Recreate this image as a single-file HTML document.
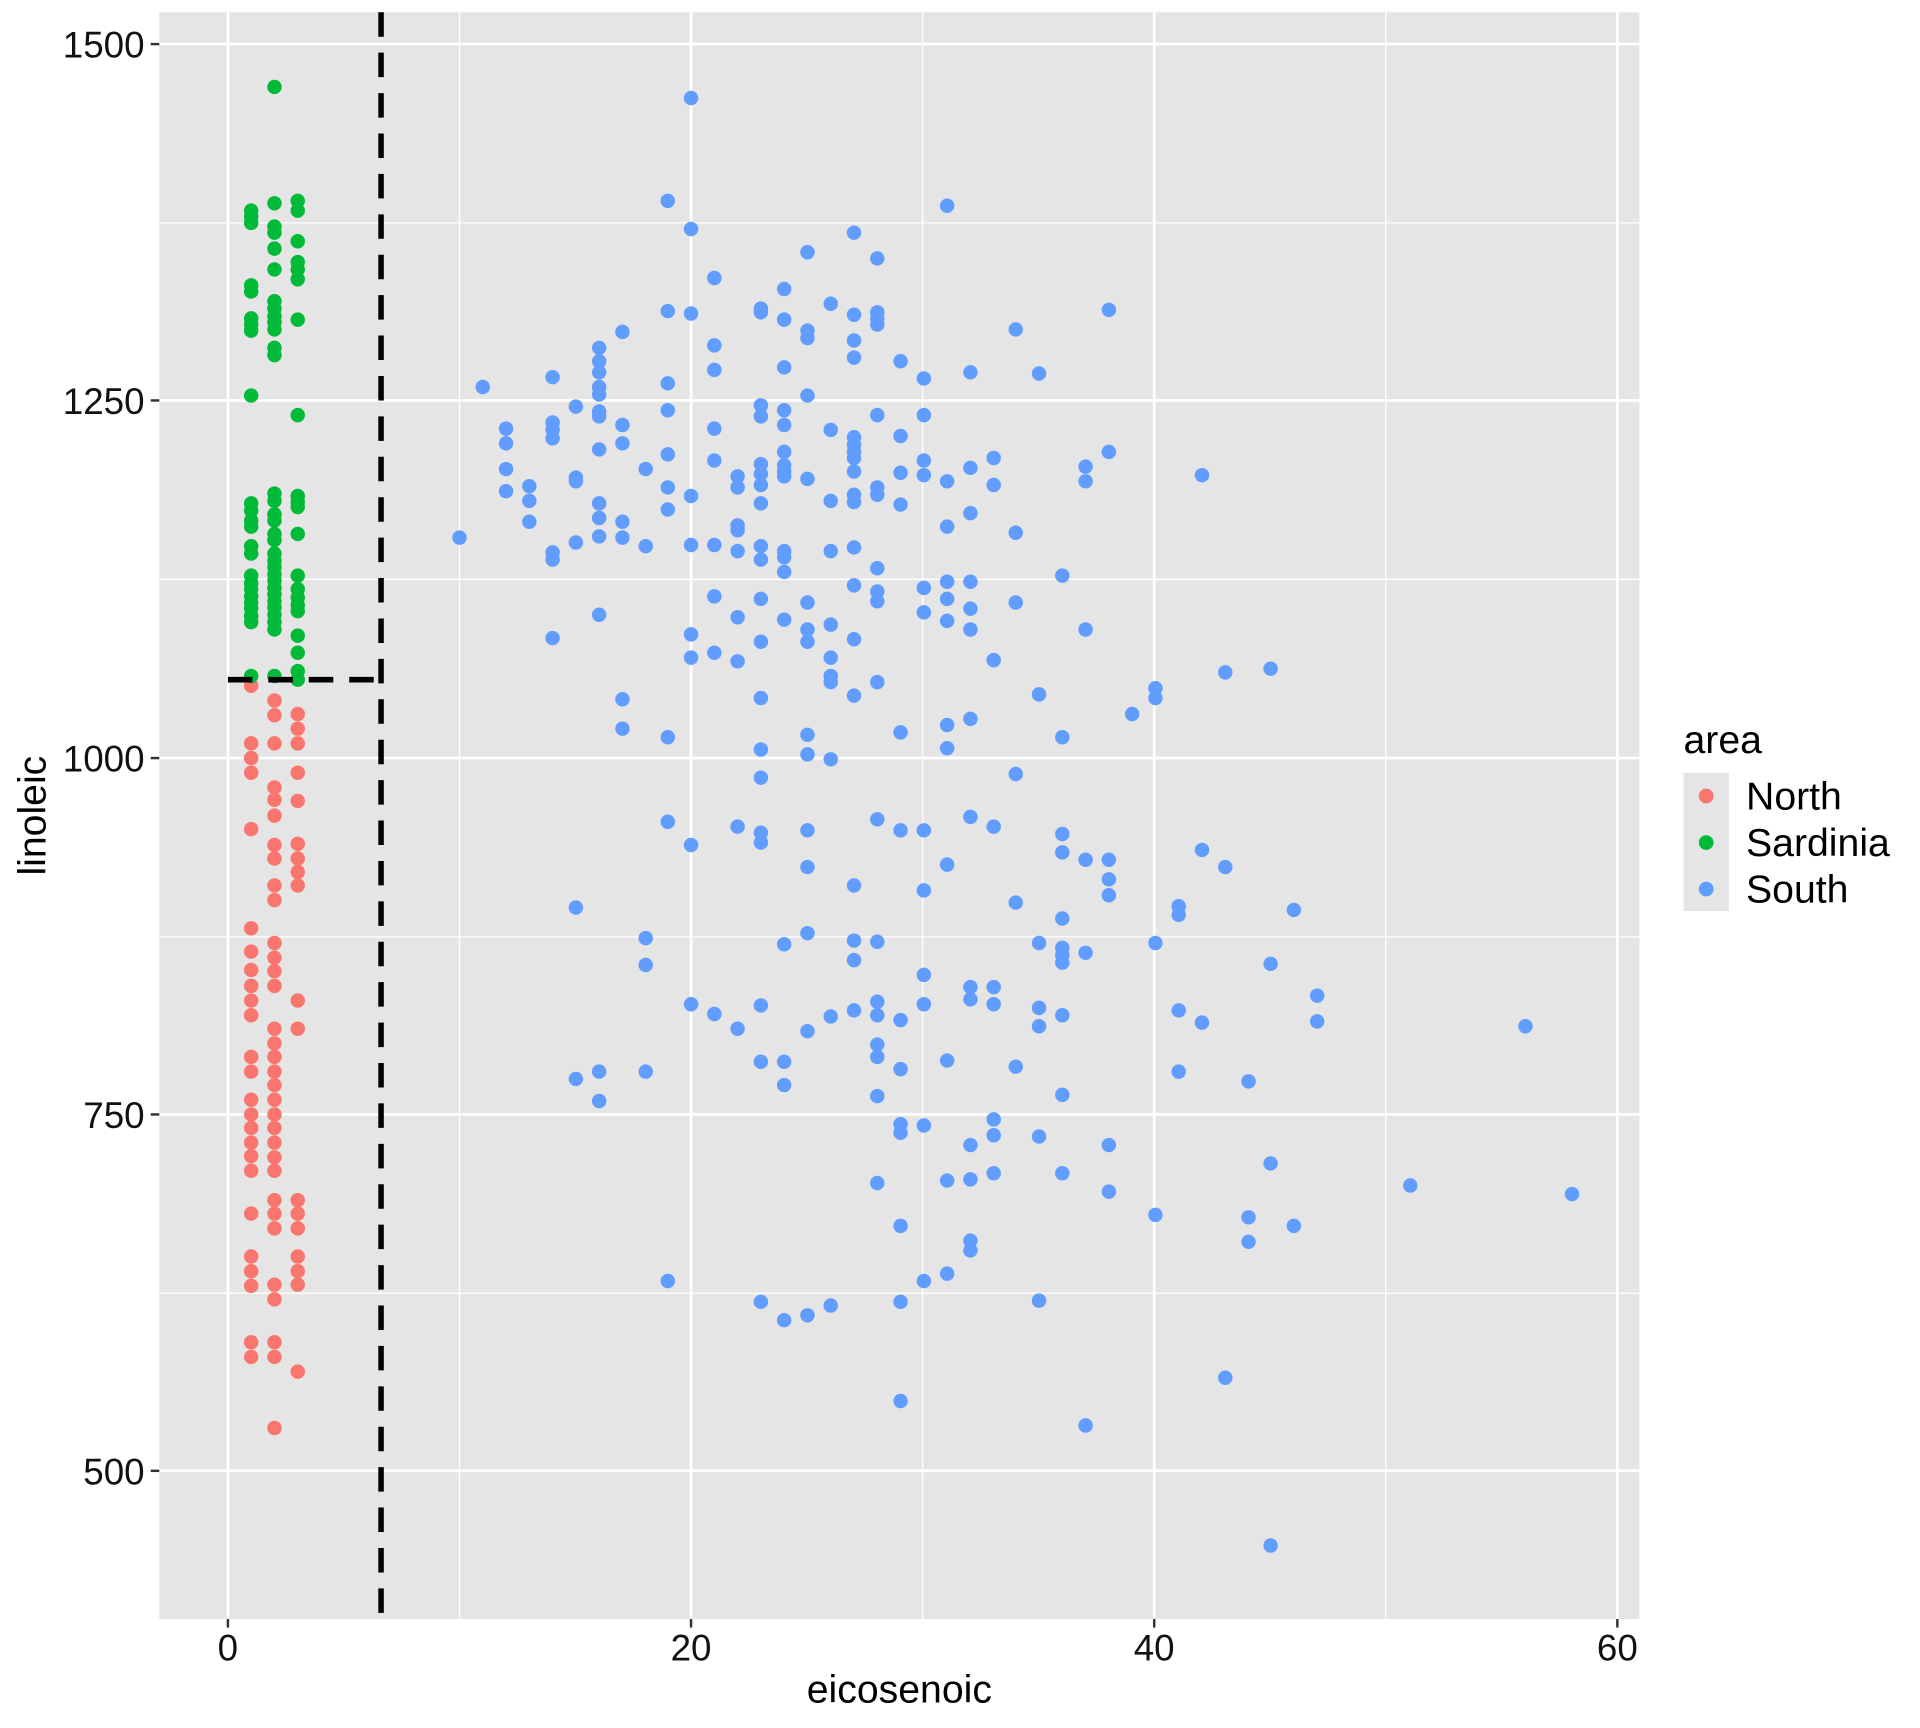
<!DOCTYPE html>
<html><head><style>html,body{margin:0;padding:0;background:#fff}svg{display:block}</style></head><body>
<svg width="1920" height="1728" viewBox="0 0 1567 1411" preserveAspectRatio="none" xmlns="http://www.w3.org/2000/svg" font-family="Liberation Sans, Arial, sans-serif">
<rect x="0" y="0" width="1567" height="1411" fill="#fff"/>
<rect x="130" y="10" width="1208" height="1312" fill="#e5e5e5"/>
<g stroke="#fff" stroke-width="1.1">
<line x1="375" y1="10" x2="375" y2="1322"/><line x1="753" y1="10" x2="753" y2="1322"/><line x1="1131" y1="10" x2="1131" y2="1322"/>
<line x1="130" y1="182" x2="1338" y2="182"/><line x1="130" y1="473" x2="1338" y2="473"/><line x1="130" y1="765" x2="1338" y2="765"/><line x1="130" y1="1056" x2="1338" y2="1056"/>
</g>
<g stroke="#fff" stroke-width="2.2">
<line x1="186" y1="10" x2="186" y2="1322"/><line x1="564" y1="10" x2="564" y2="1322"/><line x1="942" y1="10" x2="942" y2="1322"/><line x1="1320" y1="10" x2="1320" y2="1322"/>
<line x1="130" y1="36" x2="1338" y2="36"/><line x1="130" y1="327" x2="1338" y2="327"/><line x1="130" y1="619" x2="1338" y2="619"/><line x1="130" y1="910" x2="1338" y2="910"/><line x1="130" y1="1201" x2="1338" y2="1201"/>
</g>
<g id="pts"></g>
<line x1="311" y1="10" x2="311" y2="1322" stroke="#000" stroke-width="4.5" stroke-dasharray="20,13"/>
<line x1="186" y1="555" x2="311" y2="555" stroke="#000" stroke-width="4.5" stroke-dasharray="20,13"/>
<g stroke="#333" stroke-width="2">
<line x1="186" y1="1322" x2="186" y2="1329"/><line x1="564" y1="1322" x2="564" y2="1329"/><line x1="942" y1="1322" x2="942" y2="1329"/><line x1="1320" y1="1322" x2="1320" y2="1329"/>
<line x1="123" y1="36" x2="130" y2="36"/><line x1="123" y1="327" x2="130" y2="327"/><line x1="123" y1="619" x2="130" y2="619"/><line x1="123" y1="910" x2="130" y2="910"/><line x1="123" y1="1201" x2="130" y2="1201"/>
</g>
<g font-size="30" fill="#111" text-anchor="middle">
<text x="186" y="1356">0</text><text x="564" y="1356">20</text><text x="942" y="1356">40</text><text x="1320" y="1356">60</text>
</g>
<g font-size="30" fill="#111" text-anchor="end">
<text x="118" y="47">1500</text><text x="118" y="338">1250</text><text x="118" y="630">1000</text><text x="118" y="921">750</text><text x="118" y="1212">500</text>
</g>
<text x="734" y="1390" font-size="32" text-anchor="middle" fill="#000">eicosenoic</text>
<text transform="translate(37,666) rotate(-90)" font-size="32" text-anchor="middle" fill="#000">linoleic</text>
<text x="1374" y="615" font-size="32" fill="#000">area</text>
<rect x="1374" y="631" width="37" height="113" fill="#e5e5e5"/>
<circle cx="1392.5" cy="650" r="6" fill="#F8766D"/><circle cx="1392.5" cy="688" r="6" fill="#00BA38"/><circle cx="1392.5" cy="726" r="6" fill="#619CFF"/>
<g font-size="32" fill="#000"><text x="1425" y="661">North</text><text x="1425" y="699">Sardinia</text><text x="1425" y="737">South</text></g>
<script>
(function(){
var g=document.getElementById('pts'),ns='http://www.w3.org/2000/svg';
function add(x,y,c){var e=document.createElementNS(ns,'circle');e.setAttribute('cx',x);e.setAttribute('cy',y);e.setAttribute('r',5.9);e.setAttribute('fill',c);g.appendChild(e);}
var G={205:[172,177,182,233,238,260,265,270,323,411,417,425,430,446,452,470,476,481,487,492,497,503,508,552],224:[71,166,185,190,203,220,246,252,258,263,269,284,290,403,409,420,425,436,441,452,458,463,469,474,480,485,491,496,502,508,514,552],243:[164,172,197,214,220,228,261,339,405,410,414,436,470,481,488,494,499,519,533,548,555]};
var R={205:[560,607,619,631,677,758,777,792,805,817,829,863,875,898,910,921,933,944,956,991,1026,1038,1050,1096,1108],224:[1166,572,584,607,643,653,666,690,701,723,735,770,782,793,805,840,852,863,875,886,898,910,921,933,945,956,980,991,1003,1049,1061,1096,1108],243:[583,595,607,631,654,689,701,712,723,817,840,980,991,1003,1026,1038,1049,1120]};
var k;for(k in R)R[k].forEach(function(y){add(k,y,'#F8766D')});
for(k in G)G[k].forEach(function(y){add(k,y,'#00BA38')});
var B=[[375,439],[394,316],[413,350],[413,362],[413,383],[413,401],[432,397],[432,409],[432,426],[451,308],[451,345],[451,351],[451,358],[451,451],[451,457],[451,521],[470,332],[470,390],[470,393],[470,443],[470,741],[470,881],[489,284],[489,295],[489,304],[489,316],[489,322],[489,336],[489,340],[489,367],[489,411],[489,423],[489,438],[489,502],[489,875],[489,899],[508,271],[508,347],[508,362],[508,426],[508,439],[508,571],[508,595],[527,383],[527,446],[527,766],[527,788],[527,875],[545,164],[545,254],[545,313],[545,335],[545,371],[545,398],[545,416],[545,602],[545,671],[545,1046],[564,80],[564,187],[564,256],[564,405],[564,445],[564,518],[564,537],[564,690],[564,820],[583,227],[583,282],[583,302],[583,350],[583,376],[583,445],[583,487],[583,533],[583,828],[602,389],[602,398],[602,429],[602,433],[602,450],[602,504],[602,540],[602,675],[602,840],[621,252],[621,255],[621,331],[621,340],[621,379],[621,387],[621,396],[621,411],[621,446],[621,457],[621,489],[621,524],[621,570],[621,612],[621,635],[621,680],[621,688],[621,821],[621,867],[621,1063],[640,236],[640,261],[640,300],[640,335],[640,347],[640,369],[640,380],[640,385],[640,389],[640,450],[640,455],[640,467],[640,506],[640,771],[640,867],[640,886],[640,1078],[659,206],[659,270],[659,276],[659,323],[659,391],[659,492],[659,514],[659,524],[659,600],[659,616],[659,678],[659,708],[659,762],[659,842],[659,1074],[678,248],[678,351],[678,409],[678,450],[678,510],[678,537],[678,552],[678,557],[678,620],[678,830],[678,1066],[697,190],[697,257],[697,278],[697,292],[697,357],[697,363],[697,369],[697,374],[697,385],[697,404],[697,410],[697,447],[697,478],[697,522],[697,568],[697,723],[697,768],[697,784],[697,825],[716,211],[716,255],[716,260],[716,265],[716,339],[716,398],[716,404],[716,464],[716,483],[716,491],[716,557],[716,669],[716,769],[716,818],[716,829],[716,853],[716,863],[716,895],[716,966],[735,295],[735,356],[735,386],[735,412],[735,598],[735,678],[735,833],[735,873],[735,918],[735,925],[735,1001],[735,1063],[735,1144],[754,309],[754,339],[754,376],[754,388],[754,480],[754,500],[754,678],[754,727],[754,796],[754,820],[754,919],[754,1046],[773,168],[773,393],[773,430],[773,475],[773,489],[773,507],[773,592],[773,611],[773,706],[773,866],[773,964],[773,1040],[792,304],[792,382],[792,419],[792,475],[792,497],[792,514],[792,587],[792,667],[792,806],[792,816],[792,935],[792,963],[792,1013],[792,1021],[811,374],[811,396],[811,539],[811,675],[811,806],[811,820],[811,914],[811,927],[811,958],[829,269],[829,435],[829,492],[829,632],[829,737],[829,871],[848,305],[848,567],[848,770],[848,823],[848,838],[848,928],[848,1062],[867,470],[867,602],[867,681],[867,696],[867,750],[867,774],[867,780],[867,786],[867,829],[867,894],[867,958],[886,381],[886,393],[886,514],[886,702],[886,778],[886,1164],[905,253],[905,369],[905,702],[905,718],[905,731],[905,935],[905,973],[924,583],[943,562],[943,570],[943,770],[943,992],[962,740],[962,747],[962,825],[962,875],[981,388],[981,694],[981,835],[1000,549],[1000,708],[1000,1125],[1019,883],[1019,994],[1019,1014],[1037,546],[1037,787],[1037,950],[1037,1262],[1056,743],[1056,1001],[1075,813],[1075,834],[1151,968],[1245,838],[1283,975]];
B.forEach(function(p){add(p[0],p[1],'#619CFF')});
})();
</script>
</svg>
</body></html>
